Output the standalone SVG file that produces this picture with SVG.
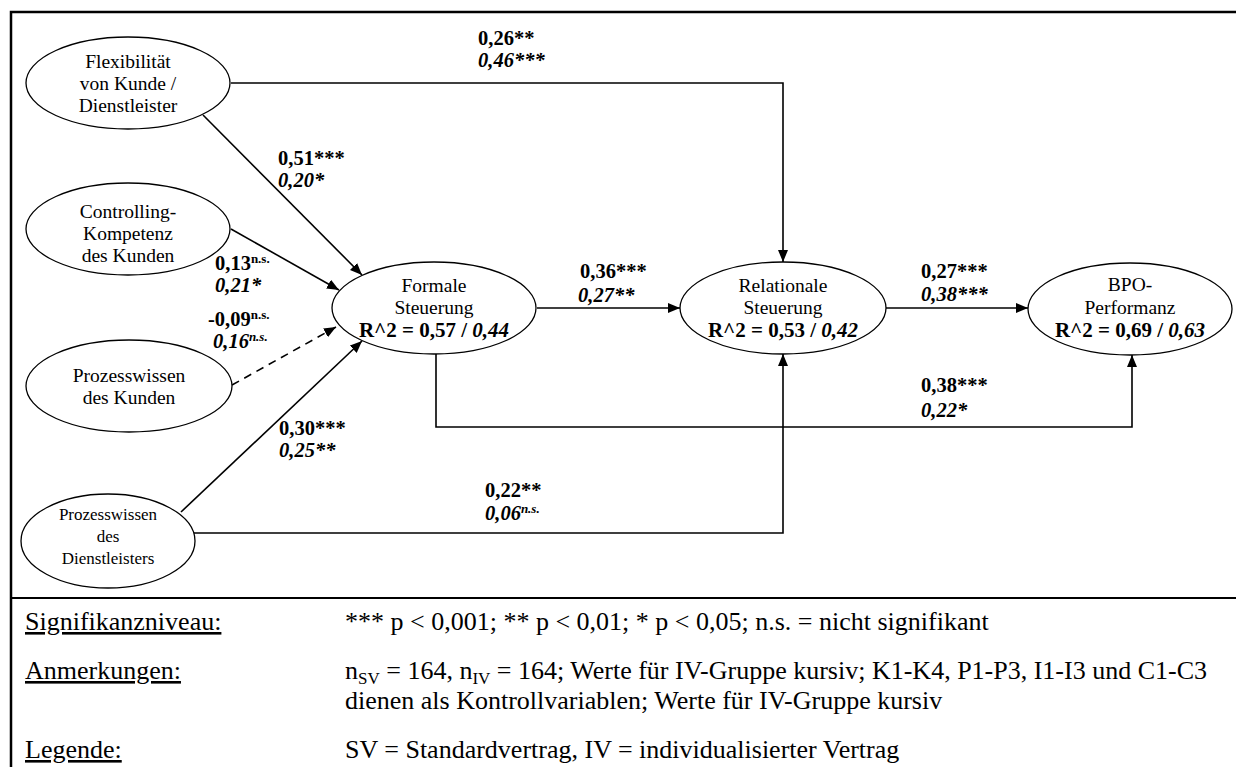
<svg xmlns="http://www.w3.org/2000/svg" width="1236" height="767" viewBox="0 0 1236 767">
  <style>
    text { font-family: "Liberation Serif", "Times New Roman", serif; fill: #000; }
    .node ellipse { fill: #fff; stroke: #000; stroke-width: 1.3; }
    .lbl { font-size: 19.5px; text-anchor: middle; }
    .lbl-s { font-size: 17px; text-anchor: middle; }
    .r2 { font-size: 21px; font-weight: bold; text-anchor: middle; }
    .coef { font-size: 20.5px; font-weight: bold; }
    .it { font-style: italic; }
    .ns { font-size: 13px; }
    .edge { fill: none; stroke: #000; stroke-width: 1.6; marker-end: url(#arrow); }
    .dash { stroke-dasharray: 8 6; }
    .frame { stroke: #000; stroke-width: 2.5; fill: none; }
    .legend { font-size: 26px; }
    .sub { font-size: 17px; }
    .ul { text-decoration: underline; }
  </style>
  <defs>
    <marker id="arrow" viewBox="0 0 12 10" refX="12" refY="5" markerWidth="12" markerHeight="10" markerUnits="userSpaceOnUse" orient="auto">
      <path d="M0,0 L12,5 L0,10 z" fill="#000"/>
    </marker>
  </defs>

  <!-- outer frame and legend separator -->
  <g id="frame">
    <path class="frame" d="M11,767 V12 H1236"/>
    <line x1="11" y1="598" x2="1236" y2="598" stroke="#000" stroke-width="2.2"/>
  </g>

  <!-- connectors -->
  <g id="connectors">
    <path class="edge" d="M231,83 H783 V262"/>
    <path class="edge" d="M203,115 L362,275"/>
    <path class="edge" d="M231,229 L339,290"/>
    <path class="edge dash" d="M232,385 L336,327"/>
    <path class="edge" d="M181,512 L362,341"/>
    <path class="edge" d="M537,308 H680"/>
    <path class="edge" d="M886,308 H1028"/>
    <path class="edge" d="M436,354 V427 H1132 V355"/>
    <path class="edge" d="M194,533 H783 V354"/>
  </g>

  <!-- nodes -->
  <g id="flexibilitaet" class="node">
    <ellipse cx="128" cy="83" rx="102" ry="46"/>
    <text class="lbl" x="128" y="68">Flexibilität</text>
    <text class="lbl" x="128" y="90">von Kunde /</text>
    <text class="lbl" x="128" y="112">Dienstleister</text>
  </g>
  <g id="controlling" class="node">
    <ellipse cx="128" cy="229" rx="102" ry="46"/>
    <text class="lbl" x="128" y="218">Controlling-</text>
    <text class="lbl" x="128" y="240">Kompetenz</text>
    <text class="lbl" x="128" y="262">des Kunden</text>
  </g>
  <g id="prozesswissen-kunde" class="node">
    <ellipse cx="129" cy="386" rx="103" ry="46"/>
    <text class="lbl" x="129" y="382">Prozesswissen</text>
    <text class="lbl" x="129" y="404">des Kunden</text>
  </g>
  <g id="prozesswissen-dienstleister" class="node">
    <ellipse cx="108" cy="541" rx="87" ry="47"/>
    <text class="lbl-s" x="108" y="520">Prozesswissen</text>
    <text class="lbl-s" x="108" y="542">des</text>
    <text class="lbl-s" x="108" y="564">Dienstleisters</text>
  </g>
  <g id="formale-steuerung" class="node">
    <ellipse cx="434" cy="308" rx="102" ry="46"/>
    <text class="lbl" x="434" y="292">Formale</text>
    <text class="lbl" x="434" y="314">Steuerung</text>
    <text class="r2" x="434" y="337">R^2 = 0,57 / <tspan class="it">0,44</tspan></text>
  </g>
  <g id="relationale-steuerung" class="node">
    <ellipse cx="783" cy="308" rx="103" ry="46"/>
    <text class="lbl" x="783" y="292">Relationale</text>
    <text class="lbl" x="783" y="314">Steuerung</text>
    <text class="r2" x="783" y="337">R^2 = 0,53 / <tspan class="it">0,42</tspan></text>
  </g>
  <g id="bpo-performanz" class="node">
    <ellipse cx="1130" cy="309" rx="102" ry="46"/>
    <text class="lbl" x="1130" y="291">BPO-</text>
    <text class="lbl" x="1130" y="314">Performanz</text>
    <text class="r2" x="1130" y="337">R^2 = 0,69 / <tspan class="it">0,63</tspan></text>
  </g>

  <!-- path coefficients (SV bold, IV bold italic) -->
  <g id="coefficients">
    <text class="coef" x="478" y="45">0,26**</text>
    <text class="coef it" x="478" y="67">0,46***</text>

    <text class="coef" x="278" y="165">0,51***</text>
    <text class="coef it" x="278" y="187">0,20*</text>

    <text class="coef" x="215" y="270">0,13<tspan class="ns" dy="-7">n.s.</tspan></text>
    <text class="coef it" x="215" y="292">0,21*</text>

    <text class="coef" x="208" y="326">-0,09<tspan class="ns" dy="-7">n.s.</tspan></text>
    <text class="coef it" x="213" y="348">0,16<tspan class="ns" dy="-7">n.s.</tspan></text>

    <text class="coef" x="279" y="435">0,30***</text>
    <text class="coef it" x="279" y="457">0,25**</text>

    <text class="coef" x="580" y="278">0,36***</text>
    <text class="coef it" x="578" y="302">0,27**</text>

    <text class="coef" x="921" y="278">0,27***</text>
    <text class="coef it" x="921" y="301">0,38***</text>

    <text class="coef" x="921" y="392">0,38***</text>
    <text class="coef it" x="921" y="417">0,22*</text>

    <text class="coef" x="485" y="497">0,22**</text>
    <text class="coef it" x="485" y="520">0,06<tspan class="ns" dy="-7">n.s.</tspan></text>
  </g>

  <!-- legend -->
  <g id="legend">
    <text class="legend ul" x="25" y="630">Signifikanzniveau:</text>
    <text class="legend" x="345" y="630">*** p &lt; 0,001; ** p &lt; 0,01; * p &lt; 0,05; n.s. = nicht signifikant</text>

    <text class="legend ul" x="25" y="679">Anmerkungen:</text>
    <text class="legend" x="345" y="679">n<tspan class="sub" dy="5">SV</tspan><tspan dy="-5"> = 164, n</tspan><tspan class="sub" dy="5">IV</tspan><tspan dy="-5"> = 164; Werte für IV-Gruppe kursiv; K1-K4, P1-P3, I1-I3 und C1-C3</tspan></text>
    <text class="legend" x="345" y="709">dienen als Kontrollvariablen; Werte für IV-Gruppe kursiv</text>

    <text class="legend ul" x="25" y="758">Legende:</text>
    <text class="legend" x="345" y="758">SV = Standardvertrag, IV = individualisierter Vertrag</text>
  </g>
</svg>
